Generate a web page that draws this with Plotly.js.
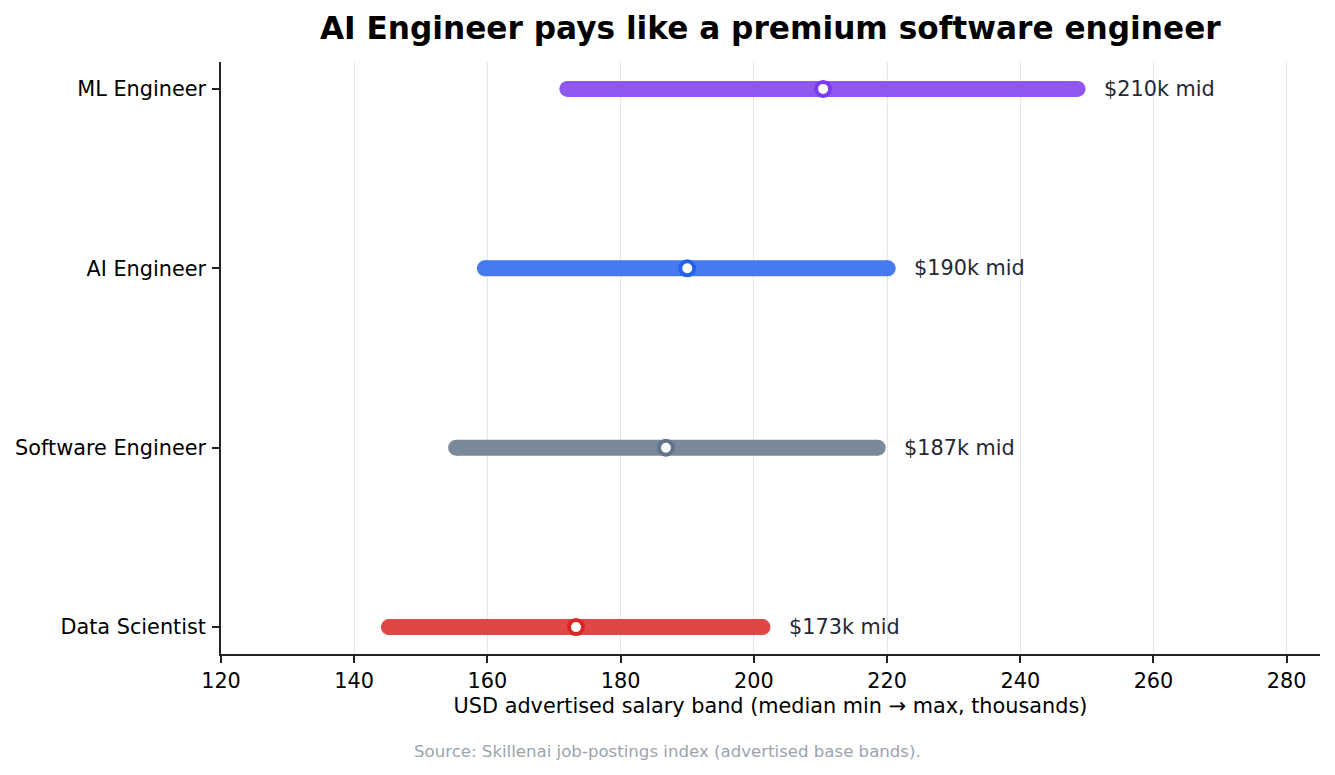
<!DOCTYPE html>
<html>
<head>
<meta charset="utf-8">
<script src="https://cdn.plot.ly/plotly-3.0.1.min.js"></script>
<style>
  html, body { margin: 0; padding: 0; background: #fff; }
  #chart { width: 1335px; height: 775px; }
</style>
</head>
<body>
<div id="chart"></div>
<script>
// Data (bottom to top)
const roles = ['Data Scientist', 'Software Engineer', 'AI Engineer', 'ML Engineer'];
const bandMin = [145.2, 155.3, 159.6, 172.0];
const bandMax = [201.3, 218.6, 220.1, 248.6];
const bandMid = [173.3, 186.8, 190.0, 210.4];
const midLabels = ['$173k mid', '$187k mid', '$190k mid', '$210k mid'];
const xTicks = [120, 140, 160, 180, 200, 220, 240, 260, 280];

// Colours: bar = ring colour at ~85% on white
const barColors = ['#e14646', '#7b899c', '#467aee', '#8f57ef'];
const ringColors = ['#dc2626', '#64748b', '#2563eb', '#7c3aed'];

const FONT = 'DejaVu Sans, sans-serif';
const LINE_W = 16;

const traces = [];

// Salary bands (markers at the ends give round caps)
roles.forEach((r, i) => {
    traces.push({
        x: [bandMin[i], bandMax[i]],
        y: [r, r],
        type: 'scatter',
        mode: 'lines+markers',
        line: { color: barColors[i], width: LINE_W },
        marker: { color: barColors[i], size: LINE_W, line: { width: 0 } },
        hoverinfo: 'skip',
        showlegend: false
    });
});

// Median markers
roles.forEach((r, i) => {
    traces.push({
        x: [bandMid[i]],
        y: [r],
        type: 'scatter',
        mode: 'markers',
        marker: { color: '#ffffff', size: 14, line: { color: ringColors[i], width: 4 } },
        showlegend: false
    });
});

const annotations = roles.map((r, i) => ({
    x: bandMax[i], y: r,
    xref: 'x', yref: 'y',
    text: midLabels[i],
    showarrow: false,
    xanchor: 'left',
    yanchor: 'middle',
    xshift: 24,
    font: { family: FONT, size: 20.8, color: '#1f2937' }
}));

annotations.push({
    x: 0.406, y: -0.164,
    xref: 'paper', yref: 'paper',
    text: 'Source: Skillenai job-postings index (advertised base bands).',
    showarrow: false,
    xanchor: 'center',
    yanchor: 'middle',
    font: { family: FONT, size: 16.6, color: '#9ca3af' }
});

const layout = {
    width: 1335,
    height: 775,
    paper_bgcolor: '#ffffff',
    plot_bgcolor: '#ffffff',
    margin: { l: 221, r: 15, t: 62, b: 121 },
    font: { family: FONT, size: 20.8, color: '#000000' },
    title: {
        text: '<b>AI Engineer pays like a premium software engineer</b>',
        font: { family: FONT, size: 31.2, color: '#000000' },
        x: 0.577, xanchor: 'center',
        y: 1 - 28 / 775, yanchor: 'middle', yref: 'container'
    },
    xaxis: {
        range: [120, 285],
        tickvals: xTicks,
        showgrid: true,
        gridcolor: '#e6e6e6',
        gridwidth: 1.3,
        zeroline: false,
        showline: true,
        linecolor: '#222222',
        linewidth: 1.6,
        ticks: 'outside',
        ticklen: 7,
        tickwidth: 1.6,
        tickcolor: '#222222',
        tickfont: { family: FONT, size: 20.8, color: '#000000' },
        title: {
            text: 'USD advertised salary band (median min \u2192 max, thousands)',
            font: { family: FONT, size: 20.8, color: '#000000' },
            standoff: 7
        },
        fixedrange: true
    },
    yaxis: {
        type: 'category',
        categoryorder: 'array',
        categoryarray: roles,
        range: [-0.15, 3.15],
        showgrid: false,
        zeroline: false,
        showline: true,
        linecolor: '#222222',
        linewidth: 1.6,
        ticks: 'outside',
        ticklen: 7,
        tickwidth: 1.6,
        tickcolor: '#222222',
        ticklabelstandoff: 2,
        tickfont: { family: FONT, size: 20.8, color: '#000000' },
        fixedrange: true
    },
    annotations: annotations,
    showlegend: false,
    hovermode: 'closest'
};

Plotly.newPlot('chart', traces, layout, { displayModeBar: false, responsive: false });
</script>
</body>
</html>
